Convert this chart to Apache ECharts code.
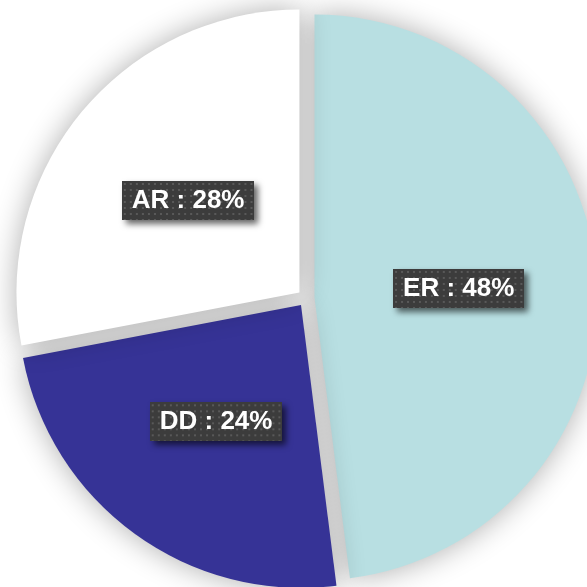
<!DOCTYPE html>
<html>
<head>
<meta charset="utf-8">
<script src="https://cdn.jsdelivr.net/npm/echarts@6/dist/echarts.min.js"></script>
<style>
  html, body { margin: 0; padding: 0; background: #fff; }
  #main { width: 587px; height: 587px; }
</style>
</head>
<body>
<div id="main"></div>
<script>
var categories = ['ER', 'DD', 'AR'];
var values = [48, 24, 28];
var colors = ['#b8dfe2', '#363396', '#ffffff'];

// dotted dark background for the labels
function makeDots(w, h) {
  var c = document.createElement('canvas');
  c.width = w; c.height = h;
  var ctx = c.getContext('2d');
  ctx.fillStyle = '#3c3c3c';
  ctx.fillRect(0, 0, w, h);
  ctx.fillStyle = '#595959';
  for (var y = 2; y < h; y += 6) {
    for (var x = 2; x < w; x += 6) {
      ctx.fillRect(x, y, 2, 2);
    }
  }
  return c;
}
var dots = makeDots(132, 39);

var chart = echarts.init(document.getElementById('main'));
var data = categories.map(function (name, i) {
  return { name: name, value: values[i], selected: true, itemStyle: { color: colors[i] } };
});

chart.setOption({
  animation: false,
  backgroundColor: '#fff',
  series: [{
    type: 'pie',
    center: [306, 298],
    radius: 283,
    startAngle: 90,
    clockwise: true,
    selectedMode: 'multiple',
    selectedOffset: 8.5,
    itemStyle: {
      shadowBlur: 30,
      shadowColor: 'rgba(0,0,0,0.32)'
    },
    label: {
      show: true,
      position: 'inside',
      formatter: '{b} : {d}%',
      color: '#fff',
      fontWeight: 'bold',
      fontSize: 26,
      fontFamily: 'Liberation Sans',
      padding: [7, 10, 6, 10],
      backgroundColor: { image: dots },
      shadowBlur: 6,
      shadowOffsetX: 4,
      shadowOffsetY: 4,
      shadowColor: 'rgba(0,0,0,0.6)'
    },
    labelLine: { show: false },
    emphasis: { disabled: true },
    data: data
  }]
});
</script>
</body>
</html>
